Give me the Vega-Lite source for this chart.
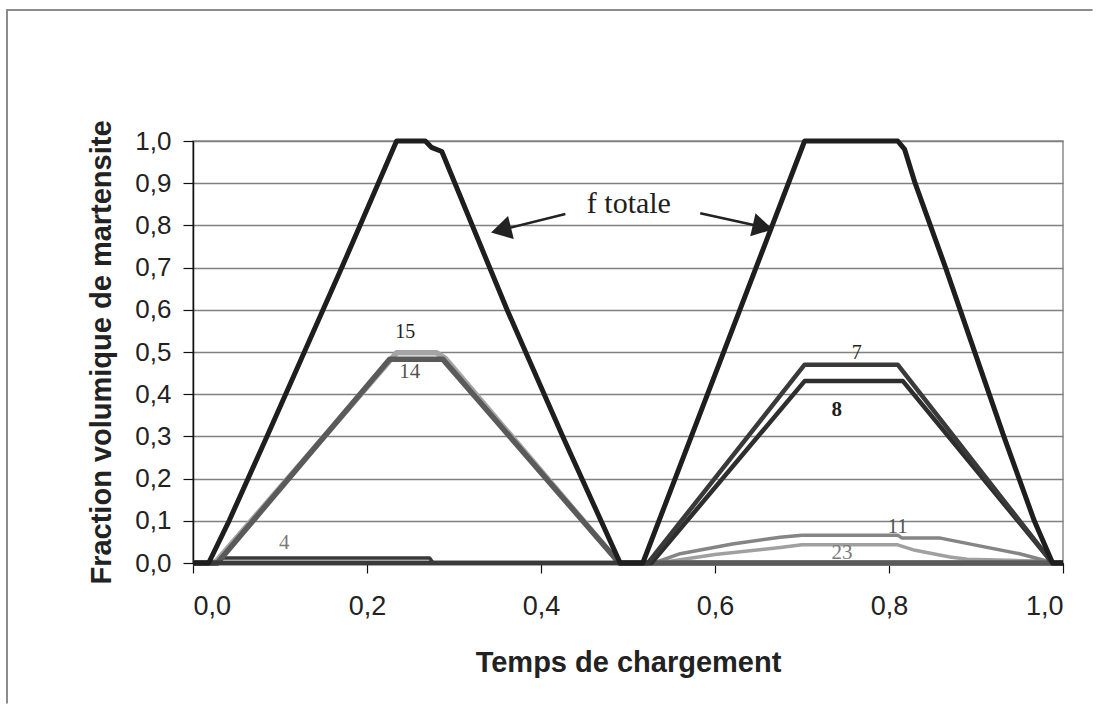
{
  "$schema": "https://vega.github.io/schema/vega-lite/v6.json",
  "width": 870,
  "height": 422,
  "autosize": "none",
  "padding": {"left": 193, "top": 141, "right": 35, "bottom": 145},
  "background": "white",
  "config": {
    "view": {"stroke": "#8a8a8a", "strokeWidth": 1.5},
    "axis": {
      "labelFont": "Liberation Sans",
      "titleFont": "Liberation Sans",
      "labelColor": "#222",
      "titleColor": "#222",
      "domainColor": "#111",
      "domainWidth": 1.5,
      "tickColor": "#111",
      "tickWidth": 1.2,
      "tickSize": 10
    }
  },
  "datasets": {
    "series": [
      {"s": "23", "t": 0.0, "f": 0.0}, {"s": "23", "t": 0.535, "f": 0.0}, {"s": "23", "t": 0.6, "f": 0.02}, {"s": "23", "t": 0.675, "f": 0.037}, {"s": "23", "t": 0.7, "f": 0.043}, {"s": "23", "t": 0.81, "f": 0.043}, {"s": "23", "t": 0.83, "f": 0.03}, {"s": "23", "t": 0.87, "f": 0.014}, {"s": "23", "t": 0.89, "f": 0.009}, {"s": "23", "t": 0.97, "f": 0.005}, {"s": "23", "t": 0.99, "f": 0.0}, {"s": "23", "t": 1.0, "f": 0.0},
      {"s": "11", "t": 0.0, "f": 0.0}, {"s": "11", "t": 0.53, "f": 0.0}, {"s": "11", "t": 0.56, "f": 0.022}, {"s": "11", "t": 0.62, "f": 0.045}, {"s": "11", "t": 0.675, "f": 0.061}, {"s": "11", "t": 0.7, "f": 0.066}, {"s": "11", "t": 0.81, "f": 0.066}, {"s": "11", "t": 0.815, "f": 0.059}, {"s": "11", "t": 0.859, "f": 0.059}, {"s": "11", "t": 0.95, "f": 0.022}, {"s": "11", "t": 0.99, "f": 0.0}, {"s": "11", "t": 1.0, "f": 0.0},
      {"s": "4", "t": 0.0, "f": 0.0}, {"s": "4", "t": 0.02, "f": 0.0}, {"s": "4", "t": 0.035, "f": 0.012}, {"s": "4", "t": 0.272, "f": 0.012}, {"s": "4", "t": 0.276, "f": 0.0}, {"s": "4", "t": 1.0, "f": 0.0},
      {"s": "15", "t": 0.0, "f": 0.0}, {"s": "15", "t": 0.025, "f": 0.0}, {"s": "15", "t": 0.234, "f": 0.498}, {"s": "15", "t": 0.28, "f": 0.498}, {"s": "15", "t": 0.29, "f": 0.485}, {"s": "15", "t": 0.49, "f": 0.0}, {"s": "15", "t": 1.0, "f": 0.0},
      {"s": "14", "t": 0.0, "f": 0.0}, {"s": "14", "t": 0.028, "f": 0.0}, {"s": "14", "t": 0.226, "f": 0.483}, {"s": "14", "t": 0.287, "f": 0.483}, {"s": "14", "t": 0.49, "f": 0.0}, {"s": "14", "t": 1.0, "f": 0.0},
      {"s": "8", "t": 0.0, "f": 0.0}, {"s": "8", "t": 0.527, "f": 0.0}, {"s": "8", "t": 0.703, "f": 0.431}, {"s": "8", "t": 0.816, "f": 0.431}, {"s": "8", "t": 0.988, "f": 0.0}, {"s": "8", "t": 1.0, "f": 0.0},
      {"s": "7", "t": 0.0, "f": 0.0}, {"s": "7", "t": 0.523, "f": 0.0}, {"s": "7", "t": 0.703, "f": 0.47}, {"s": "7", "t": 0.81, "f": 0.47}, {"s": "7", "t": 0.988, "f": 0.0}, {"s": "7", "t": 1.0, "f": 0.0},
      {"s": "total", "t": 0.0, "f": 0.0}, {"s": "total", "t": 0.018, "f": 0.0}, {"s": "total", "t": 0.0415, "f": 0.1}, {"s": "total", "t": 0.085, "f": 0.3}, {"s": "total", "t": 0.128, "f": 0.5}, {"s": "total", "t": 0.171, "f": 0.7}, {"s": "total", "t": 0.213, "f": 0.9}, {"s": "total", "t": 0.234, "f": 1.0}, {"s": "total", "t": 0.267, "f": 1.0}, {"s": "total", "t": 0.274, "f": 0.985}, {"s": "total", "t": 0.286, "f": 0.975}, {"s": "total", "t": 0.361, "f": 0.6}, {"s": "total", "t": 0.425, "f": 0.3}, {"s": "total", "t": 0.491, "f": 0.0}, {"s": "total", "t": 0.517, "f": 0.0}, {"s": "total", "t": 0.703, "f": 1.0}, {"s": "total", "t": 0.81, "f": 1.0}, {"s": "total", "t": 0.818, "f": 0.98}, {"s": "total", "t": 0.83, "f": 0.9}, {"s": "total", "t": 0.865, "f": 0.7}, {"s": "total", "t": 0.932, "f": 0.3}, {"s": "total", "t": 0.967, "f": 0.1}, {"s": "total", "t": 0.988, "f": 0.0}, {"s": "total", "t": 1.0, "f": 0.0}
    ],
    "frame": [
      {"k": "a", "fx": 1.034, "fy": 1.3104},
      {"k": "a", "fx": -0.2138, "fy": 1.3104},
      {"k": "a", "fx": -0.2138, "fy": -0.333}
    ]
  },
  "encoding": {
    "x": {"type": "quantitative", "scale": {"domain": [0, 1], "nice": false, "zero": false}},
    "y": {"type": "quantitative", "scale": {"domain": [0, 1], "nice": false, "zero": false}},
    "color": {
      "type": "nominal", "legend": null,
      "scale": {
        "domain": ["23", "11", "4", "15", "14", "8", "7", "total"],
        "range": ["#a0a0a0", "#858585", "#3a3a3a", "#a5a5a5", "#5a5a5a", "#2e2e2e", "#3a3a3a", "#1e1e1e"]
      }
    }
  },
  "layer": [
    {
      "data": {"name": "frame"},
      "mark": {"type": "line", "color": "#8c8c8c", "strokeWidth": 2, "strokeJoin": "miter"},
      "encoding": {
        "x": {"field": "fx", "type": "quantitative"},
        "y": {"field": "fy", "type": "quantitative"},
        "order": {"field": "fy", "type": "quantitative", "sort": "descending"},
        "color": {"value": "#8c8c8c"}
      }
    },
    {
      "data": {"name": "series"},
      "transform": [{"filter": {"field": "s", "oneOf": ["23", "11"]}}],
      "mark": {"type": "line", "strokeJoin": "round", "strokeWidth": 3.5},
      "encoding": {
        "x": {
          "field": "t", "type": "quantitative",
          "axis": {
            "values": [0, 0.2, 0.4, 0.6, 0.8, 1.0],
            "labelExpr": "replace(format(datum.value, '.1f'), '.', ',')",
            "grid": false,
            "labelFontSize": 27,
            "labelPadding": 20,
            "title": "Temps de chargement",
            "titleFontSize": 29,
            "titleFontWeight": "bold",
            "titlePadding": 29
          }
        },
        "y": {
          "field": "f", "type": "quantitative",
          "axis": {
            "values": [0, 0.1, 0.2, 0.3, 0.4, 0.5, 0.6, 0.7, 0.8, 0.9, 1.0],
            "labelExpr": "replace(format(datum.value, '.1f'), '.', ',')",
            "grid": true,
            "gridColor": "#808080",
            "gridWidth": 1.4,
            "labelFontSize": 26,
            "labelPadding": 12,
            "title": "Fraction volumique de martensite",
            "titleFontSize": 29,
            "titleFontWeight": "bold",
            "titlePadding": 18
          }
        },
        "color": {"field": "s"}
      }
    },
    {
      "data": {"name": "series"},
      "transform": [{"filter": {"field": "s", "oneOf": ["4"]}}],
      "mark": {"type": "line", "strokeJoin": "round", "strokeWidth": 3.5},
      "encoding": {
        "x": {"field": "t", "type": "quantitative"},
        "y": {"field": "f", "type": "quantitative"},
        "color": {"field": "s"}
      }
    },
    {
      "data": {"name": "series"},
      "transform": [{"filter": {"field": "s", "oneOf": ["15", "14"]}}],
      "mark": {"type": "line", "strokeJoin": "round", "strokeWidth": 5.5},
      "encoding": {
        "x": {"field": "t", "type": "quantitative"},
        "y": {"field": "f", "type": "quantitative"},
        "color": {"field": "s"}
      }
    },
    {
      "data": {"name": "series"},
      "transform": [{"filter": {"field": "s", "oneOf": ["8", "7"]}}],
      "mark": {"type": "line", "strokeJoin": "round", "strokeWidth": 4.5},
      "encoding": {
        "x": {"field": "t", "type": "quantitative"},
        "y": {"field": "f", "type": "quantitative"},
        "color": {"field": "s"}
      }
    },
    {
      "data": {"name": "series"},
      "transform": [{"filter": {"field": "s", "oneOf": ["total"]}}],
      "mark": {"type": "line", "strokeJoin": "round", "strokeWidth": 5},
      "encoding": {
        "x": {"field": "t", "type": "quantitative"},
        "y": {"field": "f", "type": "quantitative"},
        "color": {"field": "s"}
      }
    },
    {
      "data": {"values": [
        {"x": 0.428, "y": 0.827, "x2": 0.354, "y2": 0.789},
        {"x": 0.583, "y": 0.829, "x2": 0.655, "y2": 0.796}
      ]},
      "mark": {"type": "rule", "color": "#222", "strokeWidth": 2.5},
      "encoding": {
        "x": {"field": "x", "type": "quantitative"},
        "y": {"field": "y", "type": "quantitative"},
        "x2": {"field": "x2"},
        "y2": {"field": "y2"}
      }
    },
    {
      "data": {"values": [{"x": 0.354, "y": 0.789}]},
      "mark": {"type": "point", "shape": "triangle-right", "filled": true, "color": "#222", "opacity": 1, "size": 560, "angle": 166},
      "encoding": {
        "x": {"field": "x", "type": "quantitative"},
        "y": {"field": "y", "type": "quantitative"}
      }
    },
    {
      "data": {"values": [{"x": 0.655, "y": 0.796}]},
      "mark": {"type": "point", "shape": "triangle-right", "filled": true, "color": "#222", "opacity": 1, "size": 560, "angle": 13},
      "encoding": {
        "x": {"field": "x", "type": "quantitative"},
        "y": {"field": "y", "type": "quantitative"}
      }
    },
    {
      "data": {"values": [{"x": 0.501, "y": 0.85, "label": "f totale"}]},
      "mark": {"type": "text", "font": "Liberation Serif", "fontSize": 30, "color": "#1e1e1e", "align": "center", "baseline": "middle"},
      "encoding": {
        "x": {"field": "x", "type": "quantitative"},
        "y": {"field": "y", "type": "quantitative"},
        "text": {"field": "label"}
      }
    },
    {
      "data": {"values": [
        {"x": 0.244, "y": 0.547, "label": "15"},
        {"x": 0.763, "y": 0.498, "label": "7"}
      ]},
      "mark": {"type": "text", "font": "Liberation Serif", "fontSize": 20, "color": "#1e1e1e", "align": "center", "baseline": "middle"},
      "encoding": {
        "x": {"field": "x", "type": "quantitative"},
        "y": {"field": "y", "type": "quantitative"},
        "text": {"field": "label"}
      }
    },
    {
      "data": {"values": [
        {"x": 0.74, "y": 0.363, "label": "8"}
      ]},
      "mark": {"type": "text", "font": "Liberation Serif", "fontSize": 21, "fontWeight": "bold", "color": "#1e1e1e", "align": "center", "baseline": "middle"},
      "encoding": {
        "x": {"field": "x", "type": "quantitative"},
        "y": {"field": "y", "type": "quantitative"},
        "text": {"field": "label"}
      }
    },
    {
      "data": {"values": [
        {"x": 0.249, "y": 0.453, "label": "14"},
        {"x": 0.81, "y": 0.085, "label": "11"}
      ]},
      "mark": {"type": "text", "font": "Liberation Serif", "fontSize": 21, "color": "#555555", "align": "center", "baseline": "middle"},
      "encoding": {
        "x": {"field": "x", "type": "quantitative"},
        "y": {"field": "y", "type": "quantitative"},
        "text": {"field": "label"}
      }
    },
    {
      "data": {"values": [
        {"x": 0.105, "y": 0.047, "label": "4"},
        {"x": 0.746, "y": 0.024, "label": "23"}
      ]},
      "mark": {"type": "text", "font": "Liberation Serif", "fontSize": 21, "color": "#7a7a7a", "align": "center", "baseline": "middle"},
      "encoding": {
        "x": {"field": "x", "type": "quantitative"},
        "y": {"field": "y", "type": "quantitative"},
        "text": {"field": "label"}
      }
    }
  ]
}
